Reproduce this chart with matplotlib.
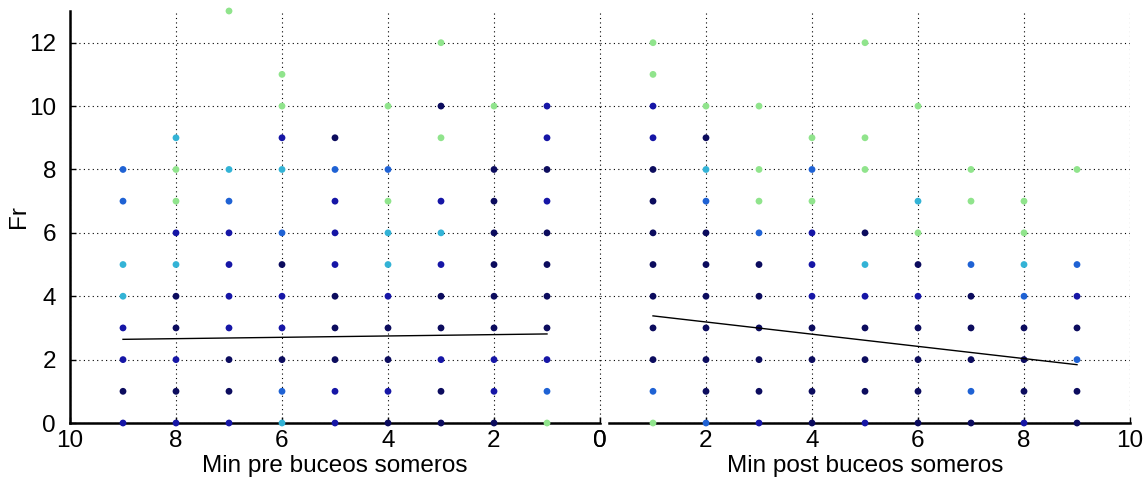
import numpy as np
import matplotlib
matplotlib.use('Agg')
import matplotlib.pyplot as plt

plt.rcParams['font.family'] = ['Liberation Sans', 'DejaVu Sans']

# colour class of each dot (0 dark navy ... 4 light green)
palette = ['#0c0c5e', '#1616a6', '#1f62d4', '#33b3d6', '#90e48c']

# left panel: Min pre buceos someros
pre_x = [9]*8 + [8]*10 + [7]*10 + [6]*11 + [5]*10 + [4]*10 + [3]*11 + [2]*10 + [1]*11
pre_y = [8, 7, 5, 4, 3, 2, 1, 0,
         9, 8, 7, 6, 5, 4, 3, 2, 1, 0,
         13, 8, 7, 6, 5, 4, 3, 2, 1, 0,
         11, 10, 9, 8, 6, 5, 4, 3, 2, 1, 0,
         9, 8, 7, 6, 5, 4, 3, 2, 1, 0,
         10, 8, 7, 6, 5, 4, 3, 2, 1, 0,
         12, 10, 9, 7, 6, 5, 4, 3, 2, 1, 0,
         10, 8, 7, 6, 5, 4, 3, 2, 1, 0,
         10, 9, 8, 7, 6, 5, 4, 3, 2, 1, 0]
pre_c = [2, 2, 3, 3, 1, 1, 0, 1,
         3, 4, 4, 1, 3, 0, 0, 1, 0, 1,
         4, 3, 2, 1, 1, 1, 1, 0, 0, 1,
         4, 4, 1, 3, 2, 0, 1, 1, 0, 2, 3,
         0, 2, 1, 1, 1, 0, 0, 0, 1, 1,
         4, 2, 4, 3, 3, 1, 0, 0, 1, 0,
         4, 0, 4, 1, 3, 1, 0, 0, 1, 0, 0,
         4, 0, 0, 0, 0, 0, 0, 1, 1, 0,
         1, 1, 0, 1, 0, 0, 0, 0, 1, 2, 4]
pre_fit_x = [9, 1]
pre_fit_y = [2.64, 2.81]

# right panel: Min post buceos someros
post_x = [1]*13 + [2]*11 + [3]*10 + [4]*10 + [5]*10 + [6]*9 + [7]*8 + [8]*8 + [9]*7
post_y = [12, 11, 10, 9, 8, 7, 6, 5, 4, 3, 2, 1, 0,
          10, 9, 8, 7, 6, 5, 4, 3, 2, 1, 0,
          10, 8, 7, 6, 5, 4, 3, 2, 1, 0,
          9, 8, 7, 6, 5, 4, 3, 2, 1, 0,
          12, 9, 8, 6, 5, 4, 3, 2, 1, 0,
          10, 7, 6, 5, 4, 3, 2, 1, 0,
          8, 7, 5, 4, 3, 2, 1, 0,
          7, 6, 5, 4, 3, 2, 1, 0,
          8, 5, 4, 3, 2, 1, 0]
post_c = [4, 4, 1, 1, 0, 0, 0, 0, 0, 0, 0, 2, 4,
          4, 0, 3, 2, 0, 0, 0, 0, 0, 0, 2,
          4, 4, 4, 2, 0, 0, 0, 0, 0, 1,
          4, 2, 4, 1, 1, 1, 0, 0, 0, 0,
          4, 4, 4, 0, 3, 1, 0, 0, 0, 1,
          4, 3, 4, 0, 1, 0, 0, 0, 0,
          4, 4, 2, 0, 0, 0, 2, 0,
          4, 4, 3, 2, 0, 0, 0, 1,
          4, 2, 1, 0, 2, 0, 0]
post_fit_x = [1, 9]
post_fit_y = [3.38, 1.84]

fig = plt.figure(figsize=(11.46, 4.79), dpi=100)
ax1 = fig.add_axes([70/1146, 56/479, 530/1146, 412/479])
ax2 = fig.add_axes([600/1146, 56/479, 530/1146, 412/479])

panels = [(ax1, pre_x, pre_y, pre_c, pre_fit_x, pre_fit_y, 'Min pre buceos someros'),
          (ax2, post_x, post_y, post_c, post_fit_x, post_fit_y, 'Min post buceos someros')]

for ax, xs, ys, cs, fx, fy, label in panels:
    ax.scatter(xs, ys, c=[palette[k] for k in cs], s=24, linewidths=0,
               zorder=3, clip_on=False)
    ax.plot(fx, fy, color='black', lw=1, zorder=4)
    ax.set_ylim(0, 13)
    ax.set_yticks(range(0, 13, 2))
    ax.set_xticks(range(0, 11, 2))
    ax.grid(True, color='black', linestyle=(0, (1, 3)), linewidth=0.8)
    ax.set_axisbelow(True)
    for s in ['top', 'right']:
        ax.spines[s].set_visible(False)
    ax.spines['bottom'].set_linewidth(1.8)
    ax.spines['left'].set_linewidth(1.8)
    ax.tick_params(direction='in', length=4, width=1, labelsize=17.5)
    ax.tick_params(axis='x', pad=5)
    ax.tick_params(axis='y', pad=10)
    ax.set_xlabel(label, fontsize=17.5, labelpad=2)

ax1.set_xlim(10, 0)
ax1.set_ylabel('Fr', fontsize=17.5, labelpad=-1)

ax2.set_xlim(0, 10)
ax2.spines['left'].set_visible(False)
ax2.spines['bottom'].set_bounds(0.17, 10)
ax2.tick_params(axis='y', left=False, labelleft=False)

fig.savefig('out.png', dpi=100)
